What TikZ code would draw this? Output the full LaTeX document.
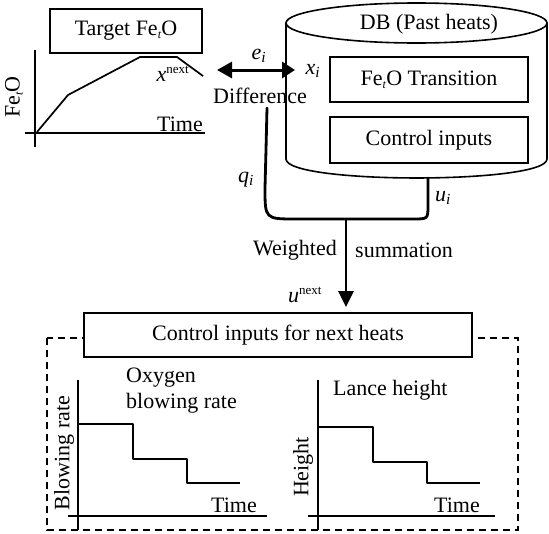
\documentclass[tikz,border=0pt]{standalone}
\usepackage{fontspec}
\setmainfont{Liberation Serif}
\usetikzlibrary{arrows.meta}
\newcommand\subtee{\raisebox{-3pt}{\fontsize{12}{12}\selectfont\textit{t}}}
\begin{document}
\begin{tikzpicture}[x=1pt,y=-1pt,
  font=\fontsize{22}{26}\selectfont,
  boxnode/.style={draw, line width=1.7pt, inner sep=0pt, fill=white},
  axisline/.style={line width=1.6pt},
  curveline/.style={line width=1.7pt, line join=round},
  thickline/.style={line width=2.8pt, line cap=round, line join=round},
  lbl/.style={inner sep=0pt}
]
\useasboundingbox (0,0) rectangle (549,533);

% ---- top-left graph ----
\node[boxnode, minimum width=152pt, minimum height=44pt] (target) at (126,31) {Target Fe\subtee O};
\draw[axisline] (35,50) -- (35,147);
\draw[axisline] (25,133) -- (205,133);
\draw[curveline] (37,132) -- (68,95) -- (140,57) -- (177,57) -- (203,76);
\node[lbl, rotate=90] (fetoy) at (14,97) {Fe\subtee O};
\node[lbl, anchor=east] (time1) at (203,124) {Time};
\node[lbl] (xnext) at (173,74) {\textit{x}\textsuperscript{\fontsize{13}{13}\selectfont next}};

% ---- difference arrow ----
\coordinate (dl) at (217,70);
\coordinate (dr) at (295,70);
\draw[line width=3pt, {Triangle[length=15pt,width=16pt]}-{Triangle[length=13pt,width=16pt]}] (dl) -- (dr);
\node[lbl] (ei) at (259,56) {\textit{e}\textsubscript{\textit{i}}};
\node[lbl] (xi) at (313,71) {\textit{x}\textsubscript{\textit{i}}};
\node[lbl] (diff) at (260,96) {Difference};

% ---- cylinder DB ----
\draw[line width=1.6pt] (416.5,23) ellipse [x radius=130.5pt, y radius=20pt];
\draw[line width=1.6pt] (286,23) -- (286,159) .. controls (286,184.3) and (547,184.3) .. (547,159) -- (547,23);
\node[lbl] (db) at (429,24) {DB (Past heats)};
\node[boxnode, minimum width=198pt, minimum height=45pt] (trans) at (429,79.5) {Fe\subtee O Transition};
\node[boxnode, minimum width=198pt, minimum height=46pt] (ctrl) at (429,140) {Control inputs};

% ---- weighted summation connectors ----
\coordinate (qtop) at (267,108);
\coordinate (ubot) at (428,178);
\coordinate (jn) at (346,219);
\coordinate (jtip) at (346,307);
\draw[thickline] (qtop) .. controls (266,150) .. (265,188) .. controls (265,219) .. (296,219) -- (413,219) .. controls (428,219) .. (428,205) -- (ubot);
\draw[line width=2.8pt, -{Triangle[length=16pt,width=15pt]}] (jn) -- (jtip);
\node[lbl] (qi) at (246,180) {\textit{q}\textsubscript{\textit{i}}};
\node[lbl] (ui) at (443,198) {\textit{u}\textsubscript{\textit{i}}};
\node[lbl, anchor=east] (weighted) at (337,250) {Weighted};
\node[lbl, anchor=west] (summ) at (355,250) {summation};
\node[lbl] (unext) at (305,295) {\textit{u}\textsuperscript{\fontsize{13}{13}\selectfont next}};

% ---- bottom panel ----
\draw[line width=1.6pt, dash pattern=on 7pt off 5pt] (47,338) rectangle (518,530);
\node[boxnode, minimum width=388pt, minimum height=44pt] (nextbox) at (278,335) {Control inputs for next heats};

% left graph
\draw[axisline] (78,380) -- (78,530);
\draw[axisline] (68,516) -- (267,516);
\draw[curveline] (78,424) -- (133,424) -- (133,459) -- (187,459) -- (187,483) -- (240,483);
\node[lbl, anchor=west, align=left] (oxy) at (126,391) {Oxygen\\blowing rate};
\node[lbl, rotate=90] (brate) at (64,453) {Blowing rate};
\node[lbl, anchor=east] (time2) at (257,505) {Time};

% right graph
\draw[axisline] (318,380) -- (318,530);
\draw[axisline] (308,516) -- (495,516);
\draw[curveline] (318,427) -- (373,427) -- (373,462) -- (427,462) -- (427,483) -- (480,483);
\node[lbl, anchor=west] (lance) at (333,390) {Lance height};
\node[lbl, rotate=90] (height) at (303,467) {Height};
\node[lbl, anchor=east] (time3) at (480,505) {Time};
\end{tikzpicture}
\end{document}
